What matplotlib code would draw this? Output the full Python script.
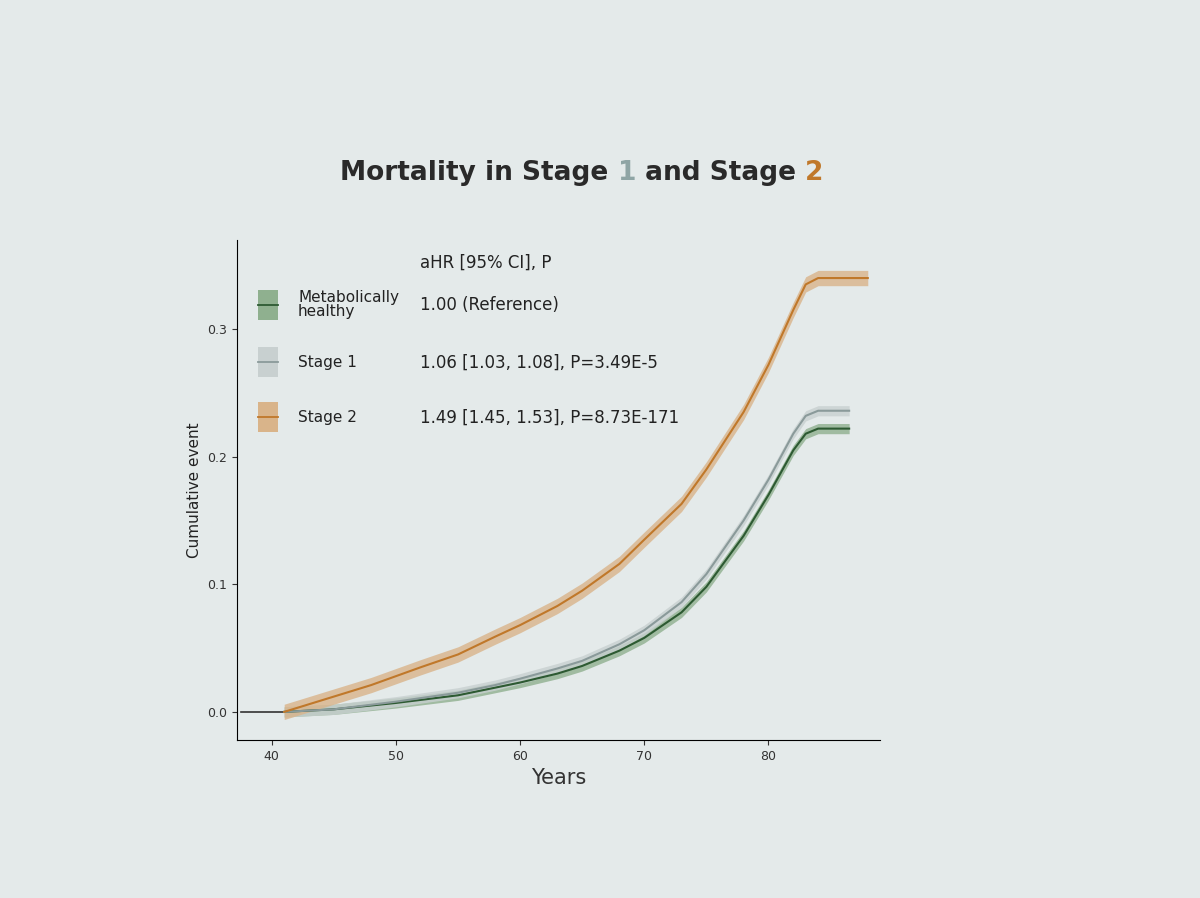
import matplotlib
matplotlib.use("Agg")
import matplotlib.pyplot as plt
import numpy as np
from matplotlib.patches import Rectangle
from matplotlib.lines import Line2D

years_s2 = [41, 43, 45, 48, 50, 52, 55, 58, 60, 63, 65, 68, 70, 73, 75, 78, 80, 82, 83, 84, 88]
stage2 = [0.0, 0.006, 0.012, 0.021, 0.028, 0.035, 0.045, 0.059, 0.068, 0.083, 0.095, 0.116, 0.135, 0.163, 0.19, 0.235, 0.272, 0.315, 0.335, 0.34, 0.34]
years_h = [41, 45, 50, 55, 58, 60, 63, 65, 68, 70, 73, 75, 78, 80, 82, 83, 84, 86.5]
healthy = [0.0, 0.002, 0.007, 0.013, 0.019, 0.023, 0.030, 0.036, 0.048, 0.058, 0.078, 0.098, 0.138, 0.17, 0.205, 0.218, 0.222, 0.222]
stage1 = [0.0, 0.002, 0.008, 0.015, 0.021, 0.026, 0.034, 0.040, 0.053, 0.064, 0.086, 0.108, 0.150, 0.182, 0.218, 0.232, 0.236, 0.236]
labels = ["Metabolically\nhealthy", "Stage 1", "Stage 2"]
stats = ["1.00 (Reference)", "1.06 [1.03, 1.08], P=3.49E-5", "1.49 [1.45, 1.53], P=8.73E-171"]
xticks = [40, 50, 60, 70, 80]
yticks = [0.0, 0.1, 0.2, 0.3]

bg = "#e4eaea"
fig = plt.figure(figsize=(12, 8.98), dpi=100, facecolor=bg)
ax = fig.add_axes([0.1975, 0.176, 0.536, 0.557], facecolor=bg)

cols = ["#2d5a32", "#8a9a9a", "#c0782a"]
bands = ["#8fb08f", "#c8d0d0", "#d9b48a"]
widths = [0.004, 0.004, 0.006]

ax.plot([37.5, 41], [0, 0], color="#333333", lw=1.2)
for (xs, ys), c, b, w in zip([(years_h, healthy), (years_h, stage1), (years_s2, stage2)], cols, bands, widths):
    ys = np.array(ys)
    ax.fill_between(xs, ys - w, ys + w, color=b, alpha=0.8, lw=0)
    ax.plot(xs, ys, color=c, lw=1.5)

ax.set_xlim(37.2, 89)
ax.set_ylim(-0.022, 0.37)
ax.set_xticks(xticks)
ax.set_yticks(yticks)
ax.set_yticklabels([f"{v:.1f}" for v in yticks])
ax.tick_params(labelsize=9, colors="#333333")
for s in ["top", "right"]:
    ax.spines[s].set_visible(False)
ax.set_xlabel("Years", fontsize=15, color="#333333")
ax.set_ylabel("Cumulative event", fontsize=11, color="#222222")

# title built from coloured pieces
pieces = [("Mortality in Stage ", "#2a2a2a"), ("1", "#8fa5a5"), (" and Stage ", "#2a2a2a"), ("2", "#c0782a")]
fig.canvas.draw()
r = fig.canvas.get_renderer()
texts = []
x = 0.0
for s, c in pieces:
    t = fig.text(x, 0.80, s, fontsize=19, fontweight="bold", color=c)
    texts.append(t)
    x += t.get_window_extent(r).width / fig.bbox.width
start = 0.485 - x / 2
x = start
for t in texts:
    t.set_x(x)
    x += t.get_window_extent(r).width / fig.bbox.width

ax.text(0.285, 0.945, "aHR [95% CI], P", transform=ax.transAxes, fontsize=12, color="#222222")
ys_leg = [0.87, 0.755, 0.645]
for y, lab, st, c, b in zip(ys_leg, labels, stats, cols, bands):
    ax.add_patch(Rectangle((0.032, y - 0.03), 0.032, 0.06, transform=ax.transAxes, color=b, lw=0))
    ax.add_line(Line2D([0.032, 0.064], [y, y], transform=ax.transAxes, color=c, lw=1.3))
    ax.text(0.095, y, lab, transform=ax.transAxes, fontsize=11, va="center", color="#222222", linespacing=0.9)
    ax.text(0.285, y, st, transform=ax.transAxes, fontsize=12, va="center", color="#222222")

fig.savefig("out.png", facecolor=bg)
